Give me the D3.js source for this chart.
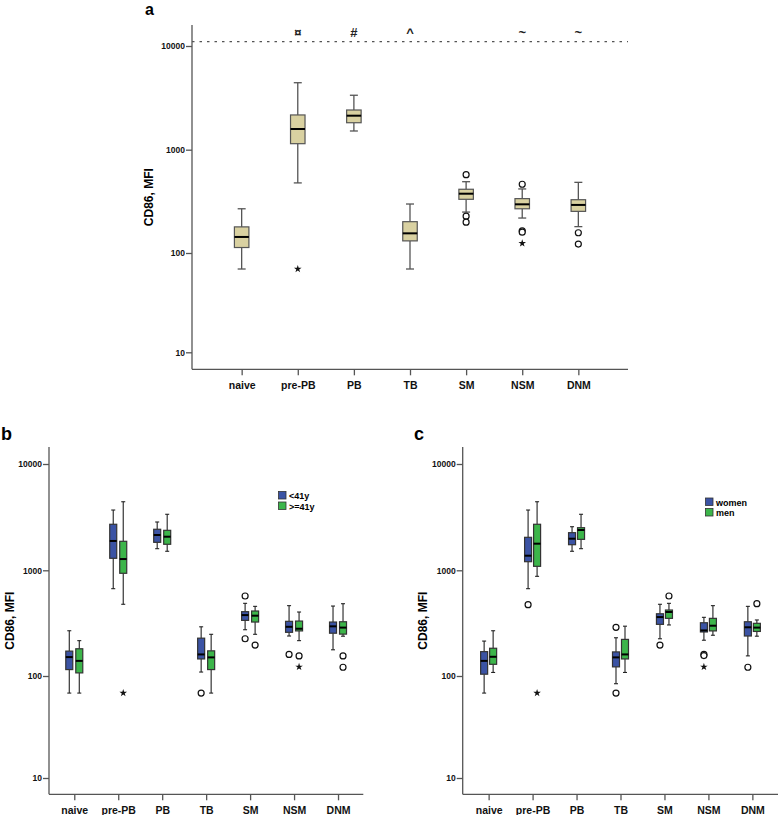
<!DOCTYPE html>
<html><head><meta charset="utf-8">
<script src="https://cdn.jsdelivr.net/npm/d3@7"></script>
<style>
body{margin:0;background:#fff;}
svg text{font-family:"Liberation Sans",Arial,sans-serif;font-weight:bold;}
</style></head>
<body><svg id="chart" width="778" height="815"></svg>
<script>
// ---------- DATA ----------
const categories = ["naive","pre-PB","PB","TB","SM","NSM","DNM"];
const yTicks = [10,100,1000,10000];
const sigMarks = ["","¤","#","^","","~","~"];
const reference = 11000;

// [lower whisker, Q1, median, Q3, upper whisker]
const aAll = [[69,113,143,179,268],[477,1143,1584,2163,4425],[1515,1820,2128,2415,3350],
  [69,131,155,201,298],[249,331,375,414,490],[218,268,296,336,417],[180,253,292,328,483]];
const aAllOut = [[1,69,"*"],[4,573,"o"],[4,227,"o"],[4,199,"o"],[5,463,"o"],[5,164,"o"],[5,159,"o"],[5,124,"*"],[6,157,"o"],[6,122,"o"]];

const ageLabels = ["<41y",">=41y"];
const bYoung = [[68,115,151,172,268],[670,1297,1888,2710,3690],[1597,1833,2148,2432,2847],
  [109,145,160,228,292],[274,336,377,406,487],[239,259,292,329,463],[177,254,295,324,459]];
const bYoungOut = [[3,68,"o"],[4,571,"o"],[4,225,"o"],[5,160,"o"]];
const bOld = [[68,107,139,181,216],[477,937,1276,1874,4415],[1510,1757,2070,2377,3365],
  [68,115,150,173,248],[248,324,372,412,456],[216,267,280,331,403],[238,249,287,326,483]];
const bOldOut = [[1,68,"*"],[4,196,"o"],[5,155,"o"],[5,122,"*"],[6,155,"o"],[6,121,"o"]];

const sexLabels = ["women","men"];
const cWomen = [[68,104,139,170,214],[670,1205,1372,2043,3690],[1510,1741,1983,2259,2570],
  [84,122,150,169,230],[225,308,361,388,477],[218,261,270,319,359],[155,239,289,326,456]];
const cWomenOut = [[1,473,"o"],[3,289,"o"],[3,68,"o"],[4,196,"o"],[5,160,"o"],[5,156,"o"],[5,122,"*"],[6,121,"o"]];
const cMen = [[108,129,152,183,268],[877,1090,1780,2710,4415],[1597,1955,2393,2517,3365],
  [108,145,160,222,296],[304,351,403,421,487],[243,267,299,351,463],[238,264,287,315,339]];
const cMenOut = [[1,68,"*"],[4,571,"o"],[6,483,"o"]];

// ---------- DRAW ----------
const svg = d3.select("#chart");
const TAN = "#d9d1a1", BLUE = "#3b53a4", GREEN = "#3cb54a";

function panel(cfg){
  const g = svg.append("g");
  const y = d3.scaleLog().domain(yTicks).range(cfg.tickPx);
  const x = d3.scalePoint().domain(categories).range([cfg.left, cfg.right]).padding(cfg.pad);
  g.append("line").attr("x1",cfg.left).attr("x2",cfg.left).attr("y1",cfg.top).attr("y2",cfg.bottom)
    .attr("stroke","#555").attr("stroke-width",1.3);
  g.append("line").attr("x1",cfg.left).attr("x2",cfg.right).attr("y1",cfg.bottom).attr("y2",cfg.bottom)
    .attr("stroke","#555").attr("stroke-width",1.3);
  const ya = g.append("g").attr("transform",`translate(${cfg.left},0)`)
    .call(d3.axisLeft(y).tickValues(yTicks).tickFormat(d3.format("d")).tickSize(6).tickPadding(1));
  ya.select(".domain").remove();
  ya.selectAll("line").attr("stroke","#555").attr("stroke-width",1.3);
  ya.selectAll("text").attr("font-size","8.5px").attr("fill","#111");
  const xa = g.append("g").attr("transform",`translate(0,${cfg.bottom})`)
    .call(d3.axisBottom(x).tickSize(6).tickPadding(6));
  xa.select(".domain").remove();
  xa.selectAll("line").attr("stroke","#555").attr("stroke-width",1.3);
  xa.selectAll("text").attr("font-size","10.5px").attr("fill","#111").attr("dy","0.71em");
  const ymid = (cfg.top+cfg.bottom)/2;
  g.append("text").attr("transform",`translate(${cfg.titleX},${ymid}) rotate(-90)`)
    .attr("text-anchor","middle").attr("font-size","12px").text("CD86, MFI");
  g.append("text").attr("x",cfg.letterX).attr("y",cfg.letterY).attr("font-size",cfg.letterSize).text(cfg.letter);

  cfg.series.forEach((s,si)=>{
    const off = cfg.series.length===1 ? 0 : (si-0.5)*cfg.gap;
    const bw = cfg.boxW, cw = cfg.capW;
    const sg = g.append("g");
    s.stats.forEach((st,ci)=>{
      const cx = x(categories[ci]) + off;
      const [lo,q1,md,q3,hi] = st;
      const wk = sg.append("g").attr("stroke",cfg.whiskerColor).attr("stroke-width",cfg.whiskerW);
      wk.append("line").attr("x1",cx).attr("x2",cx).attr("y1",y(hi)).attr("y2",y(q3));
      wk.append("line").attr("x1",cx).attr("x2",cx).attr("y1",y(q1)).attr("y2",y(lo));
      wk.append("line").attr("x1",cx-cw/2).attr("x2",cx+cw/2).attr("y1",y(hi)).attr("y2",y(hi));
      wk.append("line").attr("x1",cx-cw/2).attr("x2",cx+cw/2).attr("y1",y(lo)).attr("y2",y(lo));
      sg.append("rect").attr("x",cx-bw/2).attr("y",y(q3)).attr("width",bw).attr("height",y(q1)-y(q3))
        .attr("fill",s.color).attr("stroke",cfg.boxStroke).attr("stroke-width",1.2);
      sg.append("line").attr("x1",cx-bw/2).attr("x2",cx+bw/2).attr("y1",y(md)).attr("y2",y(md))
        .attr("stroke","#000").attr("stroke-width",2);
    });
    s.out.forEach(([ci,v,t])=>{
      const cx = x(categories[ci]) + off;
      if(t==="o"){
        sg.append("circle").attr("cx",cx).attr("cy",y(v)).attr("r",3).attr("fill","#fff")
          .attr("stroke","#111").attr("stroke-width",1.2);
      } else {
        sg.append("path").attr("d",d3.symbol(d3.symbolStar,18)()).attr("transform",`translate(${cx},${y(v)})`)
          .attr("fill","#111");
      }
    });
  });
  if(cfg.legend){
    cfg.series.forEach((s,si)=>{
      g.append("rect").attr("x",cfg.legend[0]).attr("y",cfg.legend[1]+si*10.5).attr("width",7.5).attr("height",7.5)
        .attr("fill",s.color).attr("stroke","#333").attr("stroke-width",0.8);
      g.append("text").attr("x",cfg.legend[0]+10.5).attr("y",cfg.legend[1]+si*10.5+7.5)
        .attr("font-size","9px").text(s.label);
    });
  }
  return {x,y,g};
}

const A = panel({left:192,right:628,top:25,bottom:369.3,pad:0.885,tickPx:[352.3,253,149.7,46],
  titleX:153,letter:"a",letterX:145,letterY:15,letterSize:"16px",boxW:14.5,capW:8,gap:0,whiskerColor:"#555",whiskerW:1.3,boxStroke:"#555",
  series:[{stats:aAll,out:aAllOut,color:TAN}]});
A.g.append("line").attr("x1",192).attr("x2",628).attr("y1",A.y(reference)).attr("y2",A.y(reference))
  .attr("stroke","#555").attr("stroke-width",1.3).attr("stroke-dasharray","2.5,5");
A.g.selectAll(".sig").data(sigMarks).join("text").attr("x",(d,i)=>A.x(categories[i])).attr("y",37)
  .attr("text-anchor","middle").attr("font-size","13px").attr("font-weight","normal").attr("fill","#222").text(d=>d);

panel({left:49,right:363.3,top:447,bottom:794.3,pad:0.575,tickPx:[778,676,570.3,464],
  titleX:14,letter:"b",letterX:1,letterY:440,letterSize:"18px",boxW:7,capW:4,gap:10,whiskerColor:"#222",whiskerW:1.1,boxStroke:"#333",
  legend:[278.5,491.5],
  series:[{stats:bYoung,out:bYoungOut,color:BLUE,label:ageLabels[0]},{stats:bOld,out:bOldOut,color:GREEN,label:ageLabels[1]}]});

panel({left:462.7,right:778.3,top:447,bottom:794.3,pad:0.59,tickPx:[778,676,570.3,464],
  titleX:427,letter:"c",letterX:414,letterY:440,letterSize:"18px",boxW:7,capW:4,gap:9,whiskerColor:"#222",whiskerW:1.1,boxStroke:"#333",
  legend:[705.5,498],
  series:[{stats:cWomen,out:cWomenOut,color:BLUE,label:sexLabels[0]},{stats:cMen,out:cMenOut,color:GREEN,label:sexLabels[1]}]});
</script></body></html>
